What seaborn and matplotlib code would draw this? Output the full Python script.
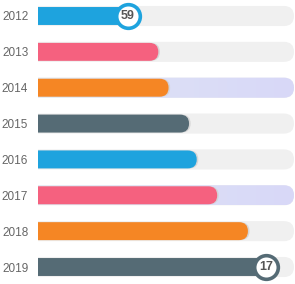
import numpy as np
import pandas as pd
import matplotlib
matplotlib.use('Agg')
import matplotlib.pyplot as plt
from matplotlib.patches import FancyBboxPatch
from matplotlib.colors import LinearSegmentedColormap
import seaborn as sns

# data (track = 100)
years = ['2012', '2013', '2014', '2015', '2016', '2017', '2018', '2019']
values = [35, 47, 51, 59, 62, 70, 82, 89]
bar_colors = ['#1ea3de', '#f5617f', '#f58624', '#556b75',
              '#1ea3de', '#f5617f', '#f58624', '#556b75']
track_max = 100
gradient_years = ['2014', '2017']
badge_years = ['2012', '2019']
badge_text = ['59', '17']

df = pd.DataFrame({'year': years, 'value': values})
df['track'] = track_max

sns.set_style('white')
plt.rcParams['font.family'] = ['Liberation Sans', 'DejaVu Sans']

fig = plt.figure(figsize=(2.95, 2.84), dpi=100)
ax = fig.add_axes([38 / 295, 0, 257 / 295, 1])

# grey tracks, then the coloured bars
sns.barplot(data=df, x='track', y='year', color='#f0f0f0', width=0.56,
            saturation=1, errorbar=None, ax=ax)
n_track = len(ax.patches)
sns.barplot(data=df, x='value', y='year', hue='year', palette=bar_colors,
            width=0.5, saturation=1, errorbar=None, legend=False, ax=ax)

ax.set_xlim(0, 257 / 2.56)
ax.set_ylim(7.474, -0.446)

# pixel size of one data unit, to make round ends look round
t0 = ax.transData.transform((0, 0))
px_x = ax.transData.transform((1, 0))[0] - t0[0]
px_y = abs(ax.transData.transform((0, 1))[1] - t0[1])
aspect = px_x / px_y

cmap = LinearSegmentedColormap.from_list('trk', ['#e2edf5', '#dcdff6', '#d8d8f8'])
grad = np.linspace(0, 1, 256).reshape(1, -1)

for i, p in enumerate(list(ax.patches)):
    x, y, w, h = p.get_x(), p.get_y(), p.get_width(), p.get_height()
    r = h * px_y / 2 / px_x
    fc = p.get_facecolor()
    p.remove()
    is_track = i < n_track
    row = i % len(years)
    style = f'round,pad=0,rounding_size={r}'
    if not is_track:
        # soft shadow at the bar end
        sh = FancyBboxPatch((x - r + 1.6 / px_x, y), w + r, h, boxstyle=style,
                            mutation_aspect=aspect, fc='#d0d0d0', ec='none',
                            alpha=0.8, zorder=2)
        ax.add_patch(sh)
    box = FancyBboxPatch((x - r, y), w + r, h, boxstyle=style,
                         mutation_aspect=aspect, fc=fc, ec='none',
                         zorder=1 if is_track else 3)
    ax.add_patch(box)
    if is_track and years[row] in gradient_years:
        im = ax.imshow(grad, cmap=cmap, extent=(x - r, x + w, y + h, y),
                       aspect='auto', zorder=1.5)
        im.set_clip_path(box)

# value badges
for yr, txt in zip(badge_years, badge_text):
    k = years.index(yr)
    ax.scatter(values[k], k, s=290, facecolor='white',
               edgecolor=bar_colors[k], linewidth=2.6, zorder=5)
    ax.text(values[k], k, txt, ha='center', va='center', fontsize=9,
            fontweight='bold', color='#555555', zorder=6)

ax.set_xlim(0, 257 / 2.56)
ax.set_ylim(7.474, -0.446)
ax.set_xticks([])
ax.set_xlabel('')
ax.set_ylabel('')
ax.tick_params(axis='y', length=0, pad=7, labelsize=8.5, labelcolor='#666666')
sns.despine(ax=ax, left=True, bottom=True)

fig.savefig('out.png', dpi=100)
